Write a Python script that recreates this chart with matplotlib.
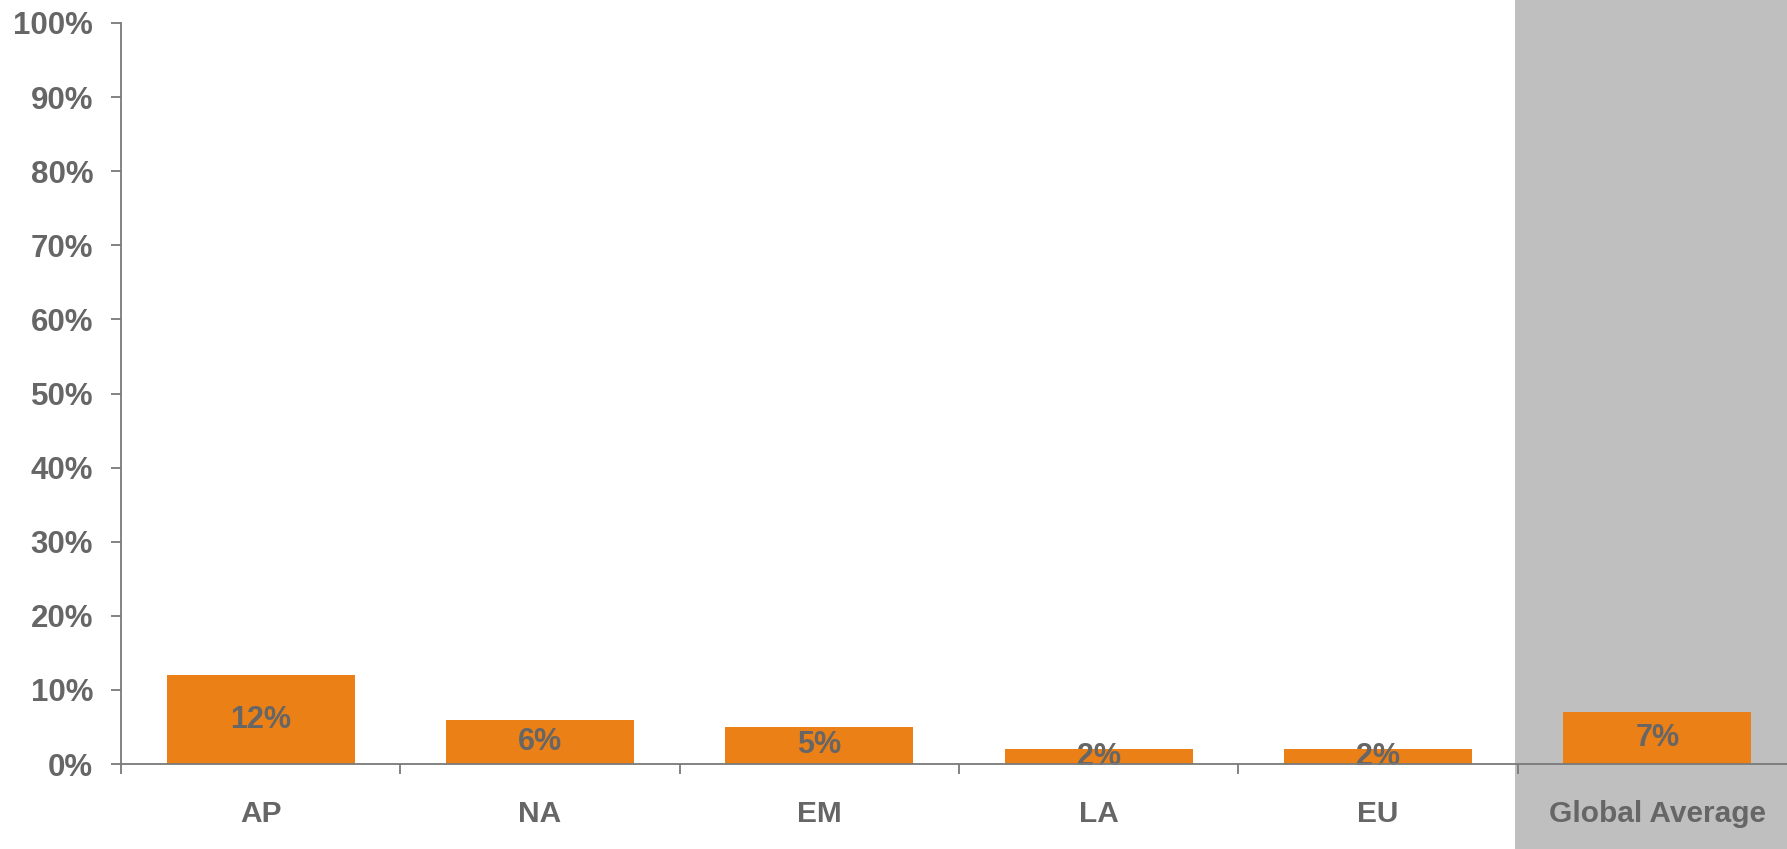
import numpy as np
import matplotlib
matplotlib.use('Agg')
import matplotlib.pyplot as plt
from matplotlib.ticker import FixedLocator, PercentFormatter

# 数据
regions = ['AP', 'NA', 'EM', 'LA', 'EU', 'Global Average']
shares = [12, 6, 5, 2, 2, 7]
y_ticks = list(range(0, 101, 10))

plt.rcParams['font.family'] = ['Liberation Sans', 'DejaVu Sans']
text_grey = '#666666'
axis_grey = '#7a7a7a'
bar_orange = '#EB8016'

fig = plt.figure(figsize=(17.87, 8.49), dpi=100)
ax = fig.add_axes([121/1787, 85/849, 1676/1787, 741/849])
ax.set_facecolor('none')

x = np.arange(len(regions))

# 全球平均的灰色背景
ax.axvspan(4.49, 6.5, ymin=-0.2, ymax=1.2, color='#BFBFBF', zorder=0, clip_on=False, lw=0)

bars = ax.bar(x, shares, width=0.673, color=bar_orange, zorder=2)
ax.bar_label(bars, labels=[f'{v}%' for v in shares], label_type='center',
             fontsize=22, fontweight='bold', color=text_grey)

ax.set_xlim(-0.5, 5.5)
ax.set_ylim(0, 100)
ax.set_yticks(y_ticks)
ax.yaxis.set_major_formatter(PercentFormatter(decimals=0))
ax.set_xticks(x)
ax.set_xticklabels(regions)
ax.xaxis.set_minor_locator(FixedLocator(np.arange(-0.5, 5.0, 1.0)))

for s in ['top', 'right']:
    ax.spines[s].set_visible(False)
for s in ['left', 'bottom']:
    ax.spines[s].set_color(axis_grey)
    ax.spines[s].set_linewidth(1.3)
    ax.spines[s].set_zorder(3)

ax.tick_params(axis='y', length=7, width=1.3, color=axis_grey, pad=13,
               labelsize=22.5, labelcolor=text_grey)
ax.tick_params(axis='x', which='major', length=0, pad=26,
               labelsize=21.5, labelcolor=text_grey)
ax.tick_params(axis='x', which='minor', length=7, width=1.3, color=axis_grey)
for lbl in ax.get_xticklabels() + ax.get_yticklabels():
    lbl.set_fontweight('bold')

plt.savefig('out.png', dpi=100)
